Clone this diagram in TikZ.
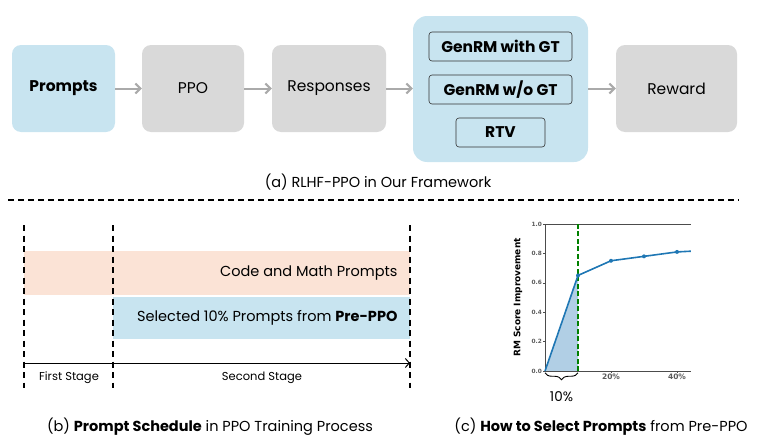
\documentclass[tikz,border=0pt]{standalone}
\usepackage{fontspec}
\setmainfont{Poppins}
\newfontfamily\dvs{DejaVu Sans}
\usetikzlibrary{arrows.meta,decorations.pathreplacing}
\definecolor{lblue}{RGB}{200,228,240}
\definecolor{lgray}{RGB}{217,217,217}
\definecolor{lorange}{RGB}{251,227,214}
\definecolor{agray}{RGB}{170,170,170}
\definecolor{mplblue}{RGB}{31,119,180}
\definecolor{tickgray}{RGB}{90,90,90}
\definecolor{dgreen}{RGB}{0,128,0}
\tikzset{
  flowbox/.style={rounded corners=9pt, minimum height=87pt, inner sep=0pt, font=\fontsize{15.5}{18}\selectfont},
  innerbox/.style={draw=black!80, rounded corners=3pt, minimum height=29pt, inner sep=0pt, font=\bfseries\fontsize{15.5}{18}\selectfont, line width=0.6pt},
  flowarrow/.style={draw=agray, line width=2pt, -{Straight Barb[length=5pt,width=10pt]}},
  vdash/.style={line width=1.1pt, dash pattern=on 6pt off 4.5pt},
  ticklab/.style={font=\dvs\bfseries\fontsize{5.8}{6}\selectfont, text=tickgray, inner sep=1pt},
  captext/.style={font=\fontsize{14.5}{17}\selectfont},
  bandtext/.style={anchor=east, font=\fontsize{14.5}{17}\selectfont},
  stagetext/.style={font=\fontsize{11.5}{13}\selectfont}
}
\begin{document}
\begin{tikzpicture}[x=1pt,y=-1pt]
\useasboundingbox (0,0) rectangle (781,447);
% (a) top flow
\node[flowbox, fill=lblue, minimum width=103pt, font=\bfseries\fontsize{15.5}{18}\selectfont] (prompts) at (63.5,88.5) {Prompts};
\node[flowbox, fill=lgray, minimum width=102pt] (ppo) at (193,88.5) {PPO};
\node[flowbox, fill=lgray, minimum width=114pt] (resp) at (329,88.5) {Responses};
\node[rounded corners=14pt, fill=lblue, minimum width=175pt, minimum height=146pt, inner sep=0pt] (rm) at (500.5,89) {};
\node[flowbox, fill=lgray, minimum width=121pt] (reward) at (676.5,88.5) {Reward};
\node[innerbox, minimum width=143pt] (g1) at (500.5,46.5) {GenRM with GT};
\node[innerbox, minimum width=143pt] (g2) at (500.5,89.5) {GenRM w/o GT};
\node[innerbox, minimum width=89pt] (rtv) at (500.5,132.5) {RTV};
\draw[flowarrow] (prompts) -- (ppo);
\draw[flowarrow] (ppo) -- (resp);
\draw[flowarrow] (resp) -- (rm.west |- resp);
\draw[flowarrow] (rm.east |- reward) -- (reward);
\node[captext] (capa) at (378,182) {(a) RLHF-PPO in Our Framework};
% separator
\coordinate (sepL) at (8,200);
\coordinate (sepR) at (739,200);
\draw[line width=1.2pt, dash pattern=on 6pt off 4pt] (sepL) -- (sepR);
% (b) schedule
\coordinate (v1t) at (24,225); \coordinate (v1b) at (24,388);
\coordinate (v2t) at (113,225); \coordinate (v2b) at (113,388);
\coordinate (v3t) at (410,225); \coordinate (v3b) at (410,388);
\fill[lorange] (24,251) rectangle (410,295);
\fill[lblue] (113,297) rectangle (410,339);
\node[bandtext] (code) at (401,273) {Code and Math Prompts};
\node[bandtext] (sel) at (401,318) {Selected 10\% Prompts from \textbf{Pre-PPO}};
\draw[vdash] (v1t) -- (v1b);
\draw[vdash] (v2t) -- (v2b);
\draw[vdash] (v3t) -- (v3b);
\coordinate (axL) at (24,363);
\coordinate (axR) at (410,363);
\draw[line width=1pt, -{Straight Barb[length=4pt,width=9pt]}] (axL) -- (axR);
\node[stagetext] (fs) at (69,378) {First Stage};
\node[stagetext] (ss) at (262,378) {Second Stage};
\node[captext] (capb) at (210,427) {(b) \textbf{Prompt Schedule} in PPO Training Process};
% (c) chart
\begin{scope}[shift={(545,371)}, x=3.3pt, y=147pt]
  \fill[mplblue!35] (0,0) -- (10,0.65) -- (10,0) -- cycle;
  \draw[black!70, line width=0.8pt] (44.2,1) -- (0,1) -- (0,0) -- (44.2,0);
  \foreach \v in {0.0,0.2,0.4,0.6,0.8,1.0} {
    \draw[black!70, line width=0.5pt] (0,\v) -- ++(-2pt,0);
    \node[ticklab, anchor=east] at ([xshift=-2pt]0,\v) {\v};
  }
  \foreach \v/\l in {20/20\%,40/40\%} {
    \draw[black!70, line width=0.5pt] (\v,0) -- ++(0,-2pt);
    \node[ticklab, anchor=north, font=\dvs\bfseries\fontsize{7.5}{8}\selectfont] at ([yshift=-2pt]\v,0) {\l};
  }
  \draw[dgreen, line width=1.5pt, dash pattern=on 5pt off 2.5pt] (10,0) -- (10,1);
  \draw[mplblue, line width=1.6pt] (0,0) -- (10,0.65) -- (20,0.75) -- (30,0.78) -- (40,0.81) -- (44.2,0.815);
  \foreach \p in {(10,0.65),(20,0.75),(30,0.78),(40,0.81)} \fill[mplblue] \p circle (2pt);
  \node[rotate=90, font=\dvs\bfseries\fontsize{9}{10}\selectfont] (ylab) at (-8.2,0.5) {RM Score Improvement};
  \draw[line width=0.9pt, decorate, decoration={brace, mirror, amplitude=7pt}] (0,-0.012) -- (10,-0.012);
  \node[font=\fontsize{13.5}{15}\selectfont] (ten) at (5,-0.177) {10\%};
\end{scope}
\node[captext] (capc) at (601,427) {(c) \textbf{How to Select Prompts} from Pre-PPO};
\end{tikzpicture}
\end{document}
